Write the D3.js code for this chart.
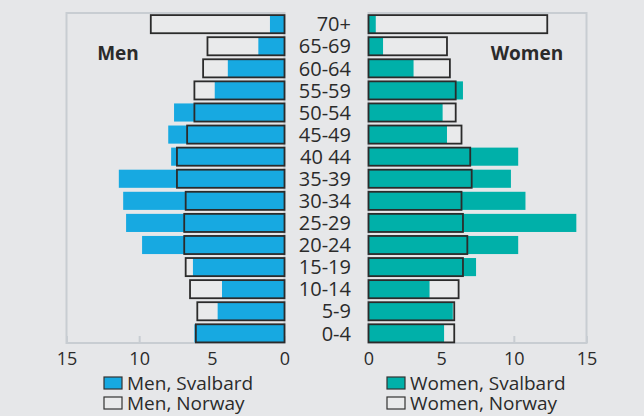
<!DOCTYPE html>
<html>
<head>
<meta charset="utf-8">
<script src="https://cdn.jsdelivr.net/npm/d3@7/dist/d3.min.js"></script>
<style>
  html, body { margin: 0; padding: 0; background: #e6e7e9; }
  svg { display: block; font-family: "Open Sans", "Noto Sans", sans-serif; }
</style>
</head>
<body>
<svg id="chart" width="644" height="416"></svg>
<script>
// Age groups, oldest at the top
const ageGroups = ["70+", "65-69", "60-64", "55-59", "50-54", "45-49", "40 44", "35-39",
                   "30-34", "25-29", "20-24", "15-19", "10-14", "5-9", "0-4"];

// Share of population (%) per age group
const menSvalbard   = [1.0, 1.8, 3.9, 4.8, 7.6, 8.0, 7.8, 11.4, 11.1, 10.9, 9.8, 6.3, 4.3, 4.6, 6.2];
const menNorway     = [9.2, 5.3, 5.6, 6.2, 6.2, 6.7, 7.4, 7.4, 6.8, 6.9, 6.9, 6.8, 6.5, 6.0, 6.1];
const womenSvalbard = [0.5, 1.0, 3.1, 6.5, 5.1, 5.4, 10.3, 9.8, 10.8, 14.3, 10.3, 7.4, 4.2, 5.8, 5.2];
const womenNorway   = [12.3, 5.4, 5.6, 6.0, 6.0, 6.4, 7.0, 7.1, 6.4, 6.5, 6.8, 6.5, 6.2, 5.9, 5.9];

const tickValues = [0, 5, 10, 15];
const panelTitles = ["Men", "Women"];
const legendLabels = [["Men, Svalbard", "Men, Norway"], ["Women, Svalbard", "Women, Norway"]];

const COLORS = { men: "#17a9e1", women: "#00b0a9", norwayFill: "#e9eaeb",
                 outline: "#2b2b2b", frame: "#c8cdd2", text: "#2b2b2b" };

const svg = d3.select("#chart");
const plotTop = 13, plotBottom = 343;

const y = d3.scaleBand()
  .domain(ageGroups)
  .range([plotTop + 1, plotBottom + 0.5])
  .paddingInner(0.18)
  .paddingOuter(0.05);

const panels = [
  { key: "men", x: d3.scaleLinear().domain([0, 15]).range([284.5, 66.5]),
    svalbard: menSvalbard, norway: menNorway, title: panelTitles[0], titleX: 118,
    legend: legendLabels[0], legendX: 104 },
  { key: "women", x: d3.scaleLinear().domain([0, 15]).range([368.5, 586.5]),
    svalbard: womenSvalbard, norway: womenNorway, title: panelTitles[1], titleX: 527,
    legend: legendLabels[1], legendX: 387 }
];

panels.forEach(p => {
  const g = svg.append("g");
  const x = p.x;
  const x0 = x(0);
  const barX = v => Math.min(x0, x(v));
  const barW = v => Math.abs(x(v) - x0);

  // frame
  const [r0, r1] = x.range();
  g.append("rect")
    .attr("x", Math.min(r0, r1)).attr("y", plotTop)
    .attr("width", Math.abs(r1 - r0)).attr("height", plotBottom - plotTop)
    .attr("fill", "none").attr("stroke", COLORS.frame).attr("stroke-width", 2);

  // axis with inward ticks
  const axis = d3.axisBottom(x).tickValues(tickValues)
    .tickSizeInner(-7).tickSizeOuter(0).tickPadding(9);
  const ax = g.append("g").attr("transform", `translate(0,${plotBottom})`).call(axis);
  ax.select(".domain").remove();
  ax.selectAll(".tick line").attr("stroke", COLORS.frame).attr("stroke-width", 2);
  ax.selectAll(".tick text").attr("fill", COLORS.text)
    .style("font-size", "18px").style("font-family", "'Open Sans', sans-serif");

  // Norway background fill
  g.selectAll(".nfill").data(ageGroups).join("rect")
    .attr("x", (d, i) => barX(p.norway[i]))
    .attr("y", d => y(d))
    .attr("width", (d, i) => barW(p.norway[i]))
    .attr("height", y.bandwidth())
    .attr("fill", COLORS.norwayFill);

  // Svalbard bars
  g.selectAll(".sval").data(ageGroups).join("rect")
    .attr("x", (d, i) => barX(p.svalbard[i]))
    .attr("y", d => y(d))
    .attr("width", (d, i) => barW(p.svalbard[i]))
    .attr("height", y.bandwidth())
    .attr("fill", COLORS[p.key]);

  // Norway outline on top
  g.selectAll(".nline").data(ageGroups).join("rect")
    .attr("x", (d, i) => barX(p.norway[i]))
    .attr("y", d => y(d))
    .attr("width", (d, i) => barW(p.norway[i]))
    .attr("height", y.bandwidth())
    .attr("fill", "none")
    .attr("stroke", COLORS.outline)
    .attr("stroke-width", 1.8);

  // panel title
  g.append("text")
    .attr("x", p.titleX).attr("y", 60)
    .attr("text-anchor", "middle")
    .attr("fill", COLORS.text)
    .style("font-size", "19px").style("font-weight", "bold")
    .text(p.title);

  // legend
  const lg = g.append("g").attr("transform", `translate(${p.legendX},377)`);
  p.legend.forEach((label, i) => {
    lg.append("rect")
      .attr("x", 0).attr("y", i * 20)
      .attr("width", 18).attr("height", 12)
      .attr("fill", i === 0 ? COLORS[p.key] : COLORS.norwayFill)
      .attr("stroke", "#333").attr("stroke-width", 1.2);
    lg.append("text")
      .attr("x", 23).attr("y", i * 20 + 12.5)
      .attr("fill", COLORS.text)
      .style("font-size", "19px")
      .text(label);
  });
});

// age group labels between the panels
svg.append("g").selectAll("text").data(ageGroups).join("text")
  .attr("x", 351)
  .attr("y", d => y(d) + y.bandwidth() / 2)
  .attr("dy", "0.36em")
  .attr("text-anchor", "end")
  .attr("fill", COLORS.text)
  .style("font-size", "20px")
  .text(d => d);
</script>
</body>
</html>
